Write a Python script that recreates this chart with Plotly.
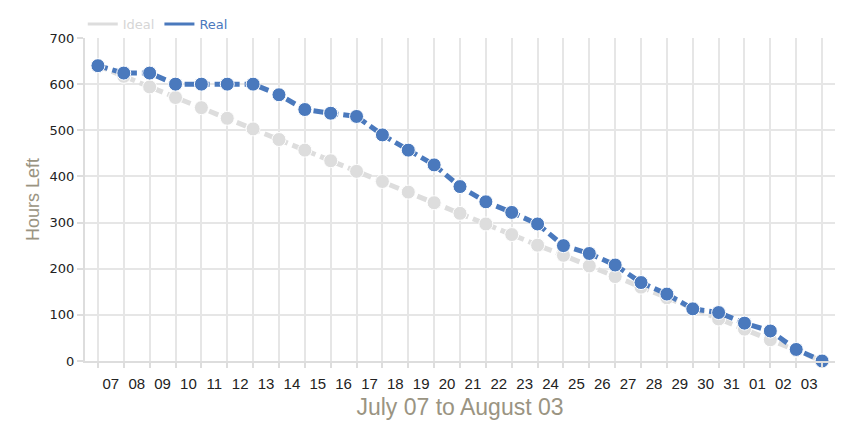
import plotly.graph_objects as go

day_index = list(range(29))
tick_positions = [i + 0.5 for i in range(28)]
tick_labels = ["07", "08", "09", "10", "11", "12", "13", "14", "15", "16", "17", "18", "19", "20",
               "21", "22", "23", "24", "25", "26", "27", "28", "29", "30", "31", "01", "02", "03"]

ideal = [640, 617, 594, 571, 549, 526, 503, 480, 457, 434, 411, 389, 366, 343, 320,
         297, 274, 251, 229, 206, 183, 160, 137, 114, 91, 69, 46, 23, 0]
real = [640, 624, 624, 600, 600, 600, 600, 577, 545, 537, 530, 490, 457, 425, 378,
        345, 322, 297, 250, 233, 208, 170, 145, 113, 105, 82, 65, 25, 0]

IDEAL_C = "#dddddd"
REAL_C = "#4a79bd"

fig = go.Figure()
fig.add_trace(go.Scatter(x=day_index, y=ideal, mode="lines+markers", showlegend=False,
                         line=dict(color=IDEAL_C, width=5, dash="10px,5px"),
                         marker=dict(size=14, color=IDEAL_C, line=dict(color="white", width=1)),
                         cliponaxis=False))
fig.add_trace(go.Scatter(x=day_index, y=real, mode="lines+markers", showlegend=False,
                         line=dict(color=REAL_C, width=5, dash="10px,5px"),
                         marker=dict(size=14, color=REAL_C, line=dict(color="white", width=1)),
                         cliponaxis=False))
# legend entries
fig.add_trace(go.Scatter(x=[None], y=[None], mode="lines", name="<span style='color:#d6d6d6'>Ideal</span>",
                         line=dict(color=IDEAL_C, width=3)))
fig.add_trace(go.Scatter(x=[None], y=[None], mode="lines", name="<span style='color:#4a79bd'>Real</span>",
                         line=dict(color=REAL_C, width=3)))
# tick label axis
fig.add_trace(go.Scatter(x=tick_positions, y=[None] * 28, xaxis="x2", showlegend=False, hoverinfo="skip"))

fig.update_layout(
    width=863, height=438,
    margin=dict(l=77, r=36, t=30, b=85, autoexpand=False),
    paper_bgcolor="white", plot_bgcolor="white",
    font=dict(family="DejaVu Sans", size=12, color="#222"),
    legend=dict(orientation="h", x=-0.003, xanchor="left", y=1.043, yanchor="middle",
                font=dict(family="DejaVu Sans", size=13), itemwidth=30, tracegroupgap=0,
                bgcolor="rgba(0,0,0,0)"),
    xaxis=dict(range=[-0.5, 28.5], tickvals=day_index, showticklabels=False,
               showgrid=True, gridcolor="#e6e6e6", gridwidth=2,
               ticks="outside", ticklen=5, tickcolor="#dddddd", tickwidth=2,
               showline=True, linecolor="#dddddd", linewidth=2, zeroline=False,
               title=dict(text="July 07 to August 03", standoff=32,
                          font=dict(family="Liberation Sans", size=23, color="#9a9482"))),
    xaxis2=dict(overlaying="x", matches="x", side="bottom", tickvals=tick_positions, ticktext=tick_labels,
                showgrid=False, ticks="", showline=False, zeroline=False, ticklabelstandoff=12,
                tickfont=dict(family="Liberation Sans", size=15, color="#222")),
    yaxis=dict(range=[0, 700], tickvals=[0, 100, 200, 300, 400, 500, 600, 700],
               showgrid=True, gridcolor="#e6e6e6", gridwidth=2,
               ticks="outside", ticklen=6, tickcolor="#dddddd", tickwidth=2,
               showline=True, linecolor="#dddddd", linewidth=2, zeroline=False,
               tickfont=dict(family="DejaVu Sans", size=13, color="#222"),
               title=dict(text="Hours Left", standoff=5,
                          font=dict(family="Liberation Sans", size=18, color="#9a9482"))),
)

fig.write_html("out.html")
